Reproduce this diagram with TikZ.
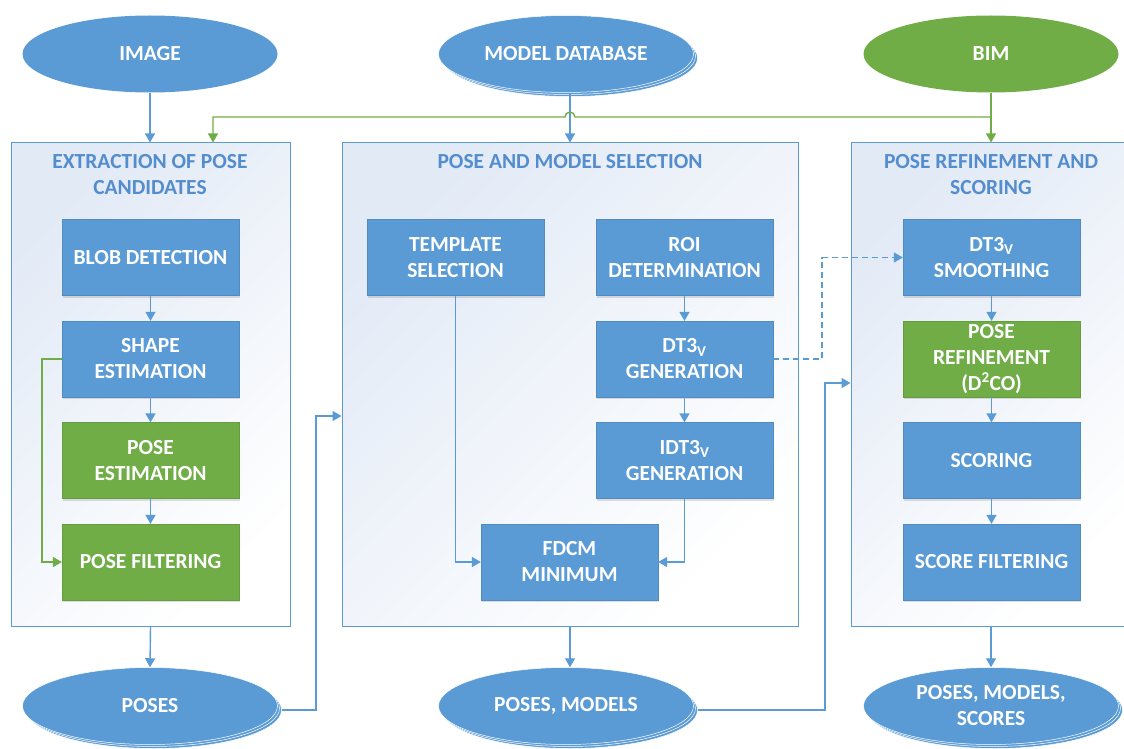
\documentclass[tikz,border=0pt]{standalone}
\usepackage{fontspec}
\setmainfont{Carlito}
\usetikzlibrary{shapes.geometric,arrows.meta,shadows,calc}
\definecolor{cblue}{RGB}{91,155,213}
\definecolor{cgreen}{RGB}{112,173,71}
\definecolor{ctitle}{RGB}{84,141,205}
\definecolor{cbg}{RGB}{226,234,246}
\begin{document}
\begin{tikzpicture}[x=1pt,y=-1pt,
  txt/.style={font=\fontsize{21.5}{26}\selectfont\bfseries},
  inbox/.style={rectangle, minimum width=177pt, minimum height=76pt, fill=cblue, draw=cblue!90!black, line width=0.3pt, text=white, align=center, txt, inner sep=2pt,
     drop shadow={opacity=0.25, shadow xshift=1pt, shadow yshift=-2pt}},
  gbox/.style={inbox, fill=cgreen, draw=cgreen!90!black},
  bigbox/.style={rectangle, draw=cblue, line width=1pt, left color=cbg, right color=white, shading angle=45},
  ttl/.style={text=ctitle, align=center, txt},
  ell/.style={ellipse, minimum width=255pt, minimum height=77pt, fill=cblue, text=white, align=center, txt, inner sep=0pt},
  back/.style={ellipse, minimum width=255pt, minimum height=77pt, fill=cblue, draw=white, line width=0.5pt},
  arr/.style={draw=cblue, line width=1.4pt, -{Triangle[width=10pt,length=9pt]}},
  garr/.style={draw=cgreen, line width=1.4pt, -{Triangle[width=10pt,length=9pt]}},
  ln/.style={draw=cblue, line width=1.4pt}
]
\useasboundingbox (0,0) rectangle (1124,749);
% ---- top ellipses
\node[ell] (image) at (150,54) {IMAGE};
\node[back] (mdb2) at (570,58) {};
\node[back] (mdb1) at (568,56) {};
\node[ell, draw=white, line width=0.5pt] (mdb) at (566,54) {MODEL DATABASE};
\node[ell, fill=cgreen] (bim) at (991,54) {BIM};
% ---- big boxes
\node[bigbox, minimum width=279pt, minimum height=483pt] (box1) at (150.5,384.5) {};
\node[bigbox, minimum width=456pt, minimum height=483pt] (box2) at (570,384.5) {};
\node[bigbox, minimum width=282pt, minimum height=483pt] (box3) at (992,384.5) {};
\node[ttl] (t1) at (150,175) {EXTRACTION OF POSE\\CANDIDATES};
\node[ttl] (t2) at (570,162) {POSE AND MODEL SELECTION};
\node[ttl] (t3) at (991,175) {POSE REFINEMENT AND\\SCORING};
% ---- box 1
\node[inbox] (blob) at (150.5,257.5) {BLOB DETECTION};
\node[inbox] (shape) at (150.5,359) {SHAPE\\ESTIMATION};
\node[gbox] (pest) at (150.5,460.5) {POSE\\ESTIMATION};
\node[gbox] (pfilt) at (150.5,562) {POSE FILTERING};
% ---- box 2
\node[inbox] (tmpl) at (455.5,257.5) {TEMPLATE\\SELECTION};
\node[inbox] (roi) at (684.5,257.5) {ROI\\DETERMINATION};
\node[inbox] (dt3) at (684.5,359) {DT3\textsubscript{V}\\GENERATION};
\node[inbox] (idt3) at (684.5,460.5) {IDT3\textsubscript{V}\\GENERATION};
\node[inbox] (fdcm) at (569.5,562) {FDCM\\MINIMUM};
% ---- box 3
\node[inbox] (smooth) at (991.5,257.5) {DT3\textsubscript{V}\\SMOOTHING};
\node[gbox] (refine) at (991.5,359) {POSE\\REFINEMENT\\(D\textsuperscript{2}CO)};
\node[inbox] (scoring) at (991.5,460.5) {SCORING};
\node[inbox] (sfilt) at (991.5,562) {SCORE FILTERING};
% ---- bottom ellipses
\node[back] (poses2) at (154,710) {};
\node[back] (poses1) at (152,708) {};
\node[ell, draw=white, line width=0.5pt] (poses) at (150,706) {POSES};
\node[back] (pm2) at (570,710) {};
\node[back] (pm1) at (568,708) {};
\node[ell, draw=white, line width=0.5pt] (pm) at (566,706) {POSES, MODELS};
\node[back] (pms2) at (995,710) {};
\node[back] (pms1) at (993,708) {};
\node[ell, draw=white, line width=0.5pt] (pms) at (991,706) {POSES, MODELS,\\SCORES};
% ---- top connectors
\draw[arr] (image.south) -- (box1.north -| image.south);
\draw[arr] (mdb.south -| box2.north) -- (box2.north);
\coordinate (gj) at (991,117);
\draw[garr] (bim.south -| gj) -- (box3.north -| gj);
\draw[garr] (gj) -- (575,117) arc[start angle=0, end angle=180, radius=5pt] -- (213,117) -- (box1.north -| 213,0);
% ---- box 1 connectors
\draw[arr] (blob) -- (shape);
\draw[arr] (shape) -- (pest);
\draw[arr] (pest) -- (pfilt);
\draw[garr] (shape.west) -- ++(-20,0) |- (pfilt.west);
% ---- box 2 connectors
\draw[arr] (roi) -- (dt3);
\draw[arr] (dt3) -- (idt3);
\draw[arr] (tmpl.south) |- (fdcm.west);
\draw[arr] (idt3.south) |- (fdcm.east);
\draw[arr, dash pattern=on 6pt off 4pt] (dt3.east) -- ++(49,0) |- (smooth.west);
% ---- box 3 connectors
\draw[arr] (smooth) -- (refine);
\draw[arr] (refine) -- (scoring);
\draw[arr] (scoring) -- (sfilt);
% ---- bottom connectors
\draw[arr] (box1.south) -- (poses.north);
\draw[arr] (box2.south) -- (pm.north -| box2.south);
\draw[arr] (box3.south -| pms.north) -- (pms.north);
\coordinate (c1) at (316,416);
\coordinate (c2) at (825,383);
\draw[arr] (poses2.east) -- (poses2.east -| c1) -- (c1) -- (box2.west |- c1);
\draw[arr] (pm2.east) -- (pm2.east -| c2) -- (c2) -- (box3.west |- c2);
\end{tikzpicture}
\end{document}
